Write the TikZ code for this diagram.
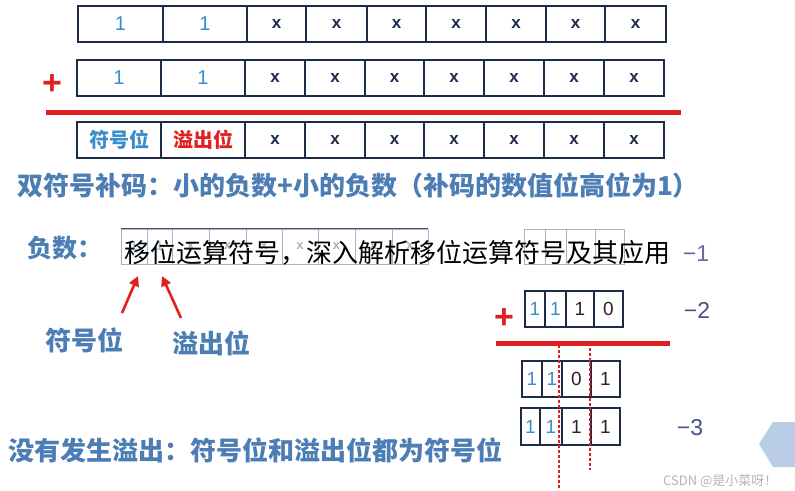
\documentclass[tikz,border=0pt]{standalone}
\usepackage{fontspec}
\setmainfont{Liberation Sans}
\newfontfamily\cjk{Noto Sans CJK SC}
\usetikzlibrary{arrows.meta}
\definecolor{navy}{HTML}{1C2B48}
\definecolor{cellblue}{HTML}{3A8DCB}
\definecolor{steel}{HTML}{4C7DB4}
\definecolor{myred}{HTML}{E0201F}
\definecolor{slate}{HTML}{4A4E8E}
\definecolor{hexblue}{HTML}{B9CDE7}
\definecolor{faint}{HTML}{A9B3C2}
\definecolor{wmgray}{HTML}{B4B4B4}
\newcommand\cellone{{\mdseries\fontsize{20}{20}\selectfont\color{cellblue}1}}
\newcommand\smallone{{\color{cellblue}1}}
\newcommand\rowcells[5]{%
  \foreach \a/\b/\t [count=\i] in {#5}{%
    \pgfmathsetmacro\w{\b-\a}%
    \pgfmathsetmacro\xc{(\a+\b)/2}%
    \node[#4, minimum width=\w pt, minimum height=#3 pt] (#1\i) at (\xc,#2) {\t};
  }}
\begin{document}
\begin{tikzpicture}[x=1pt,y=-1pt,
  cell/.style={draw=navy, line width=1.4pt, inner sep=0pt, text=navy,
    font=\bfseries\fontsize{17}{17}\selectfont},
  smallcell/.style={draw=navy, line width=1.4pt, inner sep=0pt, text=black!85,
    font=\fontsize{19}{19}\selectfont},
  fadecell/.style={draw=faint, line width=0.8pt, inner sep=0pt, text=faint,
    font=\bfseries\fontsize{13}{13}\selectfont},
  plussign/.style={text=myred, inner sep=0pt, font=\bfseries\fontsize{34}{34}\selectfont},
  bluetext/.style={text=steel, inner sep=0pt, font=\cjk\bfseries\fontsize{26}{26}\selectfont},
  minus/.style={text=slate, inner sep=0pt, font=\fontsize{23}{23}\selectfont},
  redbar/.style={myred, line width=5pt},
  reddash/.style={myred, line width=1.2pt, dash pattern=on 3pt off 2pt},
  redarrow/.style={myred, line width=2.6pt, -{Triangle[length=10pt,width=10pt]}}
]
\useasboundingbox[fill=white] (0,0) rectangle (795,490);

% top registers
\rowcells{ra}{24}{36}{cell}{78/163/\cellone,163/247/\cellone,247/306/x,306/367/x,367/426/x,426/486/x,486/546/x,546/605/x,605/666/x}
\node[plussign] (plusA) at (52,85) {+};
\rowcells{rb}{78}{36}{cell}{77/161/\cellone,161/245/\cellone,245/305/x,305/365/x,365/424/x,424/484/x,484/544/x,544/604/x,604/664/x}
\draw[redbar] (46,112) -- (681,112);
\rowcells{rc}{140}{36}{cell}{77/161/{\cjk\fontsize{20}{20}\selectfont\color{cellblue}符号位},161/245/{\cjk\fontsize{20}{20}\selectfont\color{myred}溢出位},245/305/x,305/365/x,365/424/x,424/484/x,484/544/x,544/604/x,604/664/x}

\node[bluetext, anchor=west] (title) at (17,185) {双符号补码：小的负数+小的负数（补码的数值位高位为1）};

% negative number row
\node[bluetext, anchor=west, font=\cjk\bfseries\fontsize{25}{25}\selectfont] (neg) at (27,248) {负数：};
\rowcells{rm}{246.5}{35}{fadecell}{121/147/{\color{cellblue!50}1},147/172/{\color{cellblue!50}1},172/209/x,209/246/x,246/282/x,282/318/x,318/355/x,355/392/x,392/428/x}
\draw[navy!80, line width=0.8pt] (rm1.north west) -- (rm9.north east);
\rowcells{rn}{246.5}{35}{fadecell}{524/545/{},545/566/{},566/595/{},595/624/{}}
\node[inner sep=0pt, anchor=west, text=black, font=\cjk\fontsize{26}{26}\selectfont] (overlay) at (124,253) {移位运算符号，深入解析移位运算符号及其应用};
\node[minus, text=slate!85] (m1) at (696,254) {−1};

\coordinate (t1) at (122,313);
\coordinate (h1) at (138,276);
\coordinate (t2) at (181,318);
\coordinate (h2) at (162,276);
\draw[redarrow] (t1) -- (h1);
\draw[redarrow] (t2) -- (h2);
\node[bluetext] (lab1) at (84,340) {符号位};
\node[bluetext] (lab2) at (211,343) {溢出位};

% right calculation
\node[plussign] (plusB) at (504,319) {+};
\rowcells{sa}{309}{36}{smallcell}{525/545/\smallone,545/566/\smallone,566/594/1,594/623/0}
\node[minus] (m2) at (697,310) {−2};
\draw[redbar] (496,343) -- (670,343);
\rowcells{sb}{379}{36}{smallcell}{522/542/\smallone,542/562/\smallone,562/591/0,591/620/1}
\rowcells{sc}{426.5}{37}{smallcell}{521/540/\smallone,540/562/\smallone,562/591/1,591/620/1}
\node[minus] (m3) at (690,428) {−3};
\coordinate (d1a) at (559,345);
\coordinate (d1b) at (559,490);
\coordinate (d2a) at (590,348);
\coordinate (d2b) at (590,470);
\draw[reddash] (d1a) -- (d1b);
\draw[reddash] (d2a) -- (d2b);

\node[bluetext, anchor=west] (bottom) at (8,450) {没有发生溢出：符号位和溢出位都为符号位};

% decoration
\fill[hexblue] (759,444) -- (773,422) -- (797,422) -- (797,467) -- (773,467) -- cycle;
\node[inner sep=0pt, anchor=west, text=wmgray, font=\cjk\fontsize{13}{13}\selectfont] (wm) at (663,481) {CSDN @是小菜呀！};
\end{tikzpicture}
\end{document}
